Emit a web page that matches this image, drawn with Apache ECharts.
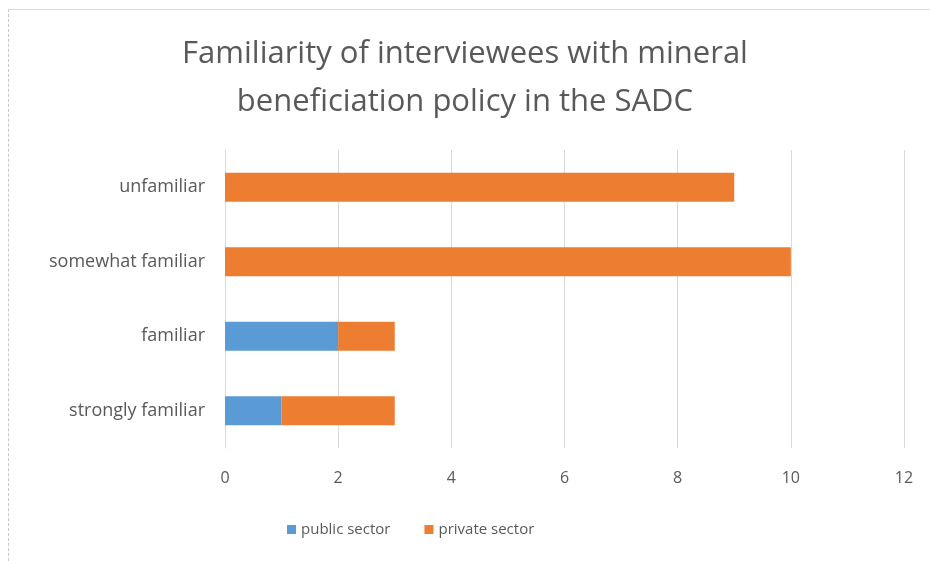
<!DOCTYPE html>
<html><head><meta charset="utf-8">
<script src="https://cdn.jsdelivr.net/npm/echarts@6/dist/echarts.min.js"></script>
<style>
html,body{margin:0;padding:0;background:#fff;}
#wrap{position:absolute;left:8px;top:9px;width:922px;height:552px;border-top:1px solid #d9d9d9;border-left:1px dashed #c8c8c8;box-sizing:border-box;}
#chart{position:absolute;left:0;top:0;width:930px;height:561px;}
</style></head>
<body>
<div id="wrap"></div>
<div id="chart"></div>
<script>
const categories = ['strongly familiar', 'familiar', 'somewhat familiar', 'unfamiliar'];
const publicSector = [1, 2, 0, 0];
const privateSector = [2, 1, 10, 9];
const xTicks = {min: 0, max: 12, interval: 2};

const chart = echarts.init(document.getElementById('chart'));
const font = "'Open Sans', 'Liberation Sans', sans-serif";
chart.setOption({
  animation: false,
  title: {
    text: 'Familiarity of interviewees with mineral\nbeneficiation policy in the SADC',
    left: 'center', top: 25,
    textStyle: {fontFamily: font, fontSize: 31, fontWeight: 'normal', color: '#595959', lineHeight: 48}
  },
  legend: {
    bottom: 19, left: 282,
    itemWidth: 9, itemHeight: 9, itemGap: 34,
    icon: 'rect',
    textStyle: {fontFamily: font, fontSize: 15, color: '#595959'},
    data: ['public sector', 'private sector']
  },
  grid: {left: 225, right: 26, top: 150, bottom: 113, containLabel: false},
  xAxis: {
    type: 'value', min: xTicks.min, max: xTicks.max, interval: xTicks.interval,
    axisLine: {show: false}, axisTick: {show: false},
    splitLine: {show: true, lineStyle: {color: '#d9d9d9', width: 1}},
    axisLabel: {fontFamily: font, fontSize: 16, color: '#595959', margin: 22}
  },
  yAxis: {
    type: 'category', data: categories,
    axisLine: {show: true, lineStyle: {color: '#d9d9d9'}}, axisTick: {show: false},
    axisLabel: {fontFamily: font, fontSize: 18, color: '#595959', margin: 20}
  },
  series: [
    {name: 'public sector', type: 'bar', stack: 's', data: publicSector, barWidth: 29,
     itemStyle: {color: '#5B9BD5'}},
    {name: 'private sector', type: 'bar', stack: 's', data: privateSector, barWidth: 29,
     itemStyle: {color: '#ED7D31'}}
  ]
});
</script>
</body></html>
